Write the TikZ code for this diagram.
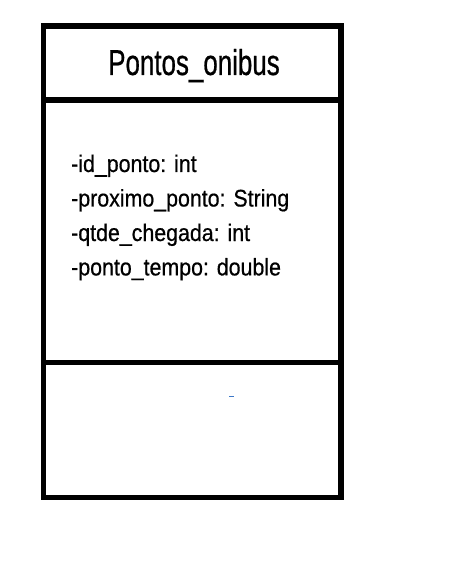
\documentclass[tikz,border=0pt]{standalone}
\usepackage{fontspec}
\newfontfamily\titlefont[FakeStretch=0.72,FakeBold=0.6]{Liberation Sans}
\newfontfamily\attrfont[FakeStretch=0.89,FakeBold=0.6]{Liberation Sans}
\begin{document}
\begin{tikzpicture}[x=1pt,y=-1pt,
  frame/.style={draw=black,line width=5.5pt},
  attr/.style={anchor=base west,inner sep=0pt,font=\attrfont\fontsize{24}{28}\selectfont}]
\useasboundingbox (0,0) rectangle (454,561);
\draw[frame] (43.5,26) rectangle (341,497.5);
\draw[frame] (41,100) -- (344,100);
\draw[frame] (41,362.5) -- (344,362.5);
\node[anchor=base,inner sep=0pt,font=\titlefont\fontsize{36}{40}\selectfont] (title) at (194,75) {Pontos\_onibus};
\node[attr] (a1) at (71,172) {-id\_ponto: int};
\node[attr] (a2) at (71,206.5) {-proximo\_ponto: String};
\node[attr] (a3) at (71,241) {-qtde\_chegada: int};
\node[attr] (a4) at (71,275.4) {-ponto\_tempo: double};
\draw[draw={rgb,255:red,60;green,120;blue,200},line width=1pt] (229,396.5) -- (234,396.5);
\end{tikzpicture}
\end{document}
